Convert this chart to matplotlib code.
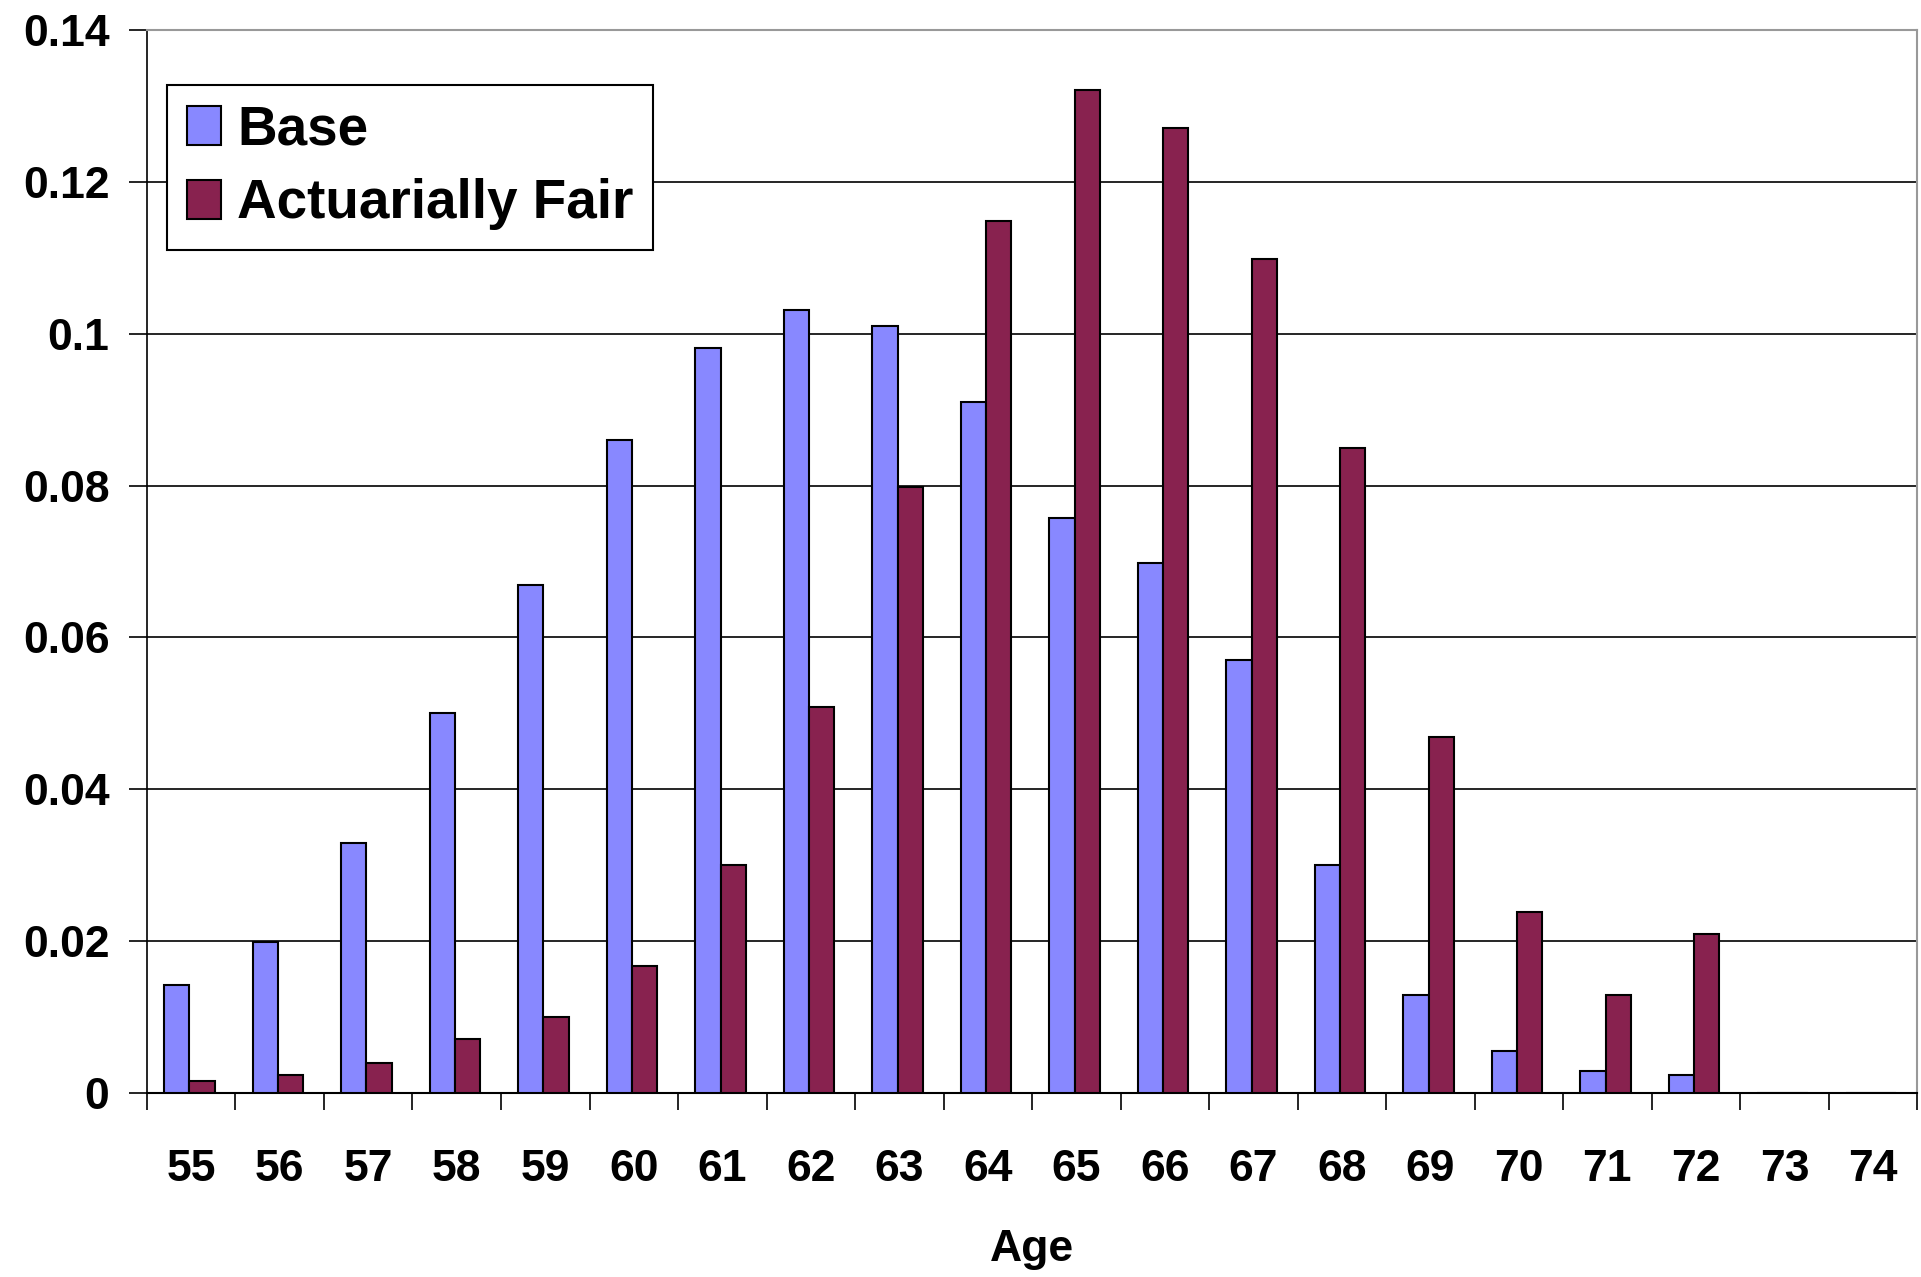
import matplotlib.pyplot as plt
import numpy as np

ages = [str(a) for a in range(55, 75)]
base = [0.0142, 0.0199, 0.0329, 0.0501, 0.0669, 0.0860, 0.0981, 0.1031, 0.1010, 0.0910,
        0.0757, 0.0698, 0.0570, 0.0300, 0.0129, 0.0056, 0.0029, 0.0024, 0.0, 0.0]
fair = [0.0016, 0.0024, 0.0040, 0.0071, 0.0100, 0.0168, 0.0300, 0.0508, 0.0798, 0.1149,
        0.1321, 0.1271, 0.1099, 0.0849, 0.0469, 0.0239, 0.0129, 0.0210, 0.0, 0.0]
yticks = [0, 0.02, 0.04, 0.06, 0.08, 0.1, 0.12, 0.14]
ytick_labels = ["0", "0.02", "0.04", "0.06", "0.08", "0.1", "0.12", "0.14"]

plt.rcParams["font.family"] = ["Liberation Sans", "DejaVu Sans"]
plt.rcParams["font.weight"] = "bold"

fig = plt.figure(figsize=(19.21, 12.77), dpi=100)
ax = fig.add_axes([0.0765, 0.144, 0.9215, 0.8325])

x = np.arange(len(ages))
w = 0.286
ax.bar(x - w / 2 - 0.02, base, w, color="#8888FF", edgecolor="black", linewidth=1.5,
       label="Base", zorder=3)
ax.bar(x + w / 2 - 0.02, fair, w, color="#88224F", edgecolor="black", linewidth=1.5,
       label="Actuarially Fair", zorder=3)

ax.set_xlim(-0.5, len(ages) - 0.5)
ax.set_ylim(0, 0.14)
ax.set_yticks(yticks)
ax.set_yticklabels(ytick_labels)
ax.yaxis.grid(True, color="black", linewidth=1.2, zorder=0)

ax.set_xticks(x)
ax.set_xticklabels(ages)
ax.set_xticks(np.arange(-0.5, len(ages)), minor=True)
ax.tick_params(axis="x", which="major", length=0, pad=40, labelsize=32)
ax.tick_params(axis="x", which="minor", length=12, width=1.2, direction="out")
ax.tick_params(axis="y", length=13, width=1.2, direction="out", pad=14, labelsize=32)

for side in ("top", "right"):
    ax.spines[side].set_color("#999999")
    ax.spines[side].set_linewidth(1.5)
ax.spines["left"].set_linewidth(1.2)
ax.spines["bottom"].set_linewidth(1.5)

ax.set_xlabel("Age", fontsize=32, fontweight="bold", labelpad=28)

leg = ax.legend(loc="upper left", bbox_to_anchor=(0.0115, 0.948), fontsize=39.5,
                frameon=True, fancybox=False, edgecolor="black", framealpha=1,
                handlelength=0.62, handleheight=0.72, handletextpad=0.3,
                borderpad=0.35, labelspacing=0.4, borderaxespad=0)
leg.get_frame().set_linewidth(1.5)

fig.savefig("out.png", dpi=100)
